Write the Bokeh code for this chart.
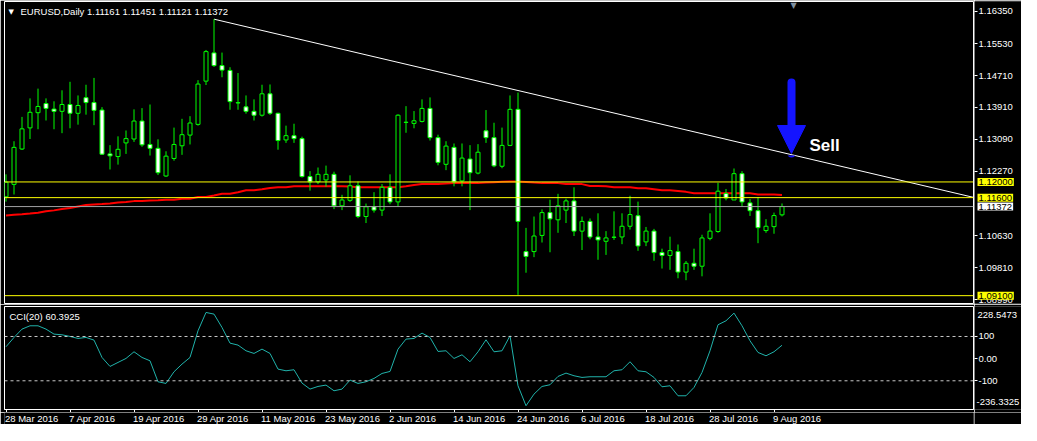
from bokeh.plotting import figure
from bokeh.models import (Range1d, FixedTicker, Span, Label, Arrow, NormalHead, ColumnDataSource)
from bokeh.layouts import column, row
from bokeh.embed import file_html
from bokeh.resources import INLINE
from bokeh.core.properties import value

# ---------------- data (EURUSD, Daily) ----------------
symbol = "EURUSD"
timeframe = "Daily"

opens = [1.11622, 1.11938, 1.12840, 1.13379, 1.13766, 1.14000, 1.13858, 1.13801, 1.13975, 1.13751,
         1.14149, 1.14024, 1.13833, 1.12715, 1.12648, 1.12996, 1.13095, 1.13553, 1.12956, 1.12857,
         1.12152, 1.12599, 1.12922, 1.13195, 1.13468, 1.14571, 1.15291, 1.14968, 1.14844, 1.14015,
         1.13915, 1.13801, 1.13702, 1.14248, 1.13751, 1.13071, 1.13180, 1.13105, 1.12137, 1.12002,
         1.12052, 1.12194, 1.11391, 1.11531, 1.11903, 1.11118, 1.11367, 1.11282, 1.11863, 1.11491,
         1.13518, 1.13493, 1.13543, 1.13875, 1.13130, 1.12450, 1.12882, 1.12027, 1.12584, 1.12226,
         1.13304, 1.13130, 1.12400, 1.12932, 1.13851, 1.10224, 1.10224, 1.10636, 1.11218, 1.11034,
         1.11282, 1.11516, 1.10746, 1.10994, 1.10597, 1.10487, 1.10587, 1.10597, 1.10870, 1.11138,
         1.10472, 1.10746, 1.10199, 1.10125, 1.10224, 1.09702, 1.09926, 1.09851, 1.10562, 1.10736,
         1.11704, 1.11540, 1.12211, 1.11466, 1.11267, 1.10760, 1.10860, 1.11161]

highs = [1.12194, 1.13038, 1.13659, 1.14131, 1.14380, 1.14131, 1.14057, 1.14337, 1.14554, 1.14206,
         1.14479, 1.14653, 1.13908, 1.12939, 1.13163, 1.13312, 1.13851, 1.13883, 1.13975, 1.13088,
         1.12782, 1.13386, 1.13610, 1.13677, 1.14596, 1.15366, 1.16151, 1.15299, 1.14926, 1.14777,
         1.14206, 1.14106, 1.14479, 1.14486, 1.13766, 1.13436, 1.13485, 1.13155, 1.12276, 1.12368,
         1.12417, 1.12261, 1.11672, 1.12169, 1.12012, 1.11449, 1.11739, 1.11945, 1.12194, 1.13726,
         1.13933, 1.13808, 1.14106, 1.14156, 1.13205, 1.13038, 1.12981, 1.12981, 1.12939, 1.12964,
         1.13833, 1.13510, 1.13386, 1.14206, 1.14280, 1.10828, 1.11118, 1.11300, 1.11548, 1.11697,
         1.11573, 1.11863, 1.11118, 1.11069, 1.11200, 1.10746, 1.11250, 1.11200, 1.11647, 1.11498,
         1.10852, 1.10803, 1.10298, 1.10604, 1.10405, 1.09983, 1.10298, 1.10654, 1.11200, 1.11978,
         1.11821, 1.12343, 1.12276, 1.11565, 1.11615, 1.11051, 1.11218, 1.11451]

lows = [1.11498, 1.11680, 1.12815, 1.13095, 1.13344, 1.13567, 1.13344, 1.13244, 1.13369, 1.13461,
        1.13716, 1.13448, 1.12691, 1.12318, 1.12442, 1.12715, 1.13021, 1.12897, 1.12673, 1.12176,
        1.12127, 1.12542, 1.12691, 1.12956, 1.13436, 1.14472, 1.14934, 1.14670, 1.13841, 1.13841,
        1.13741, 1.13567, 1.13667, 1.13709, 1.12822, 1.12996, 1.12996, 1.12112, 1.11779, 1.11945,
        1.11878, 1.11307, 1.11282, 1.11491, 1.11076, 1.10952, 1.11218, 1.11133, 1.11431, 1.11367,
        1.13254, 1.13369, 1.13518, 1.13056, 1.12425, 1.12301, 1.11888, 1.11888, 1.11282, 1.12194,
        1.12996, 1.12375, 1.12350, 1.12914, 1.09120, 1.09685, 1.10082, 1.10455, 1.10207, 1.10703,
        1.10952, 1.10621, 1.10264, 1.10537, 1.10015, 1.10139, 1.10522, 1.10413, 1.10785, 1.10244,
        1.10363, 1.09990, 1.09792, 1.09759, 1.09543, 1.09494, 1.09759, 1.09593, 1.10512, 1.10703,
        1.11531, 1.11540, 1.11381, 1.11133, 1.10438, 1.10703, 1.10679, 1.11121]

closes = [1.11995, 1.12882, 1.13354, 1.13776, 1.13925, 1.13875, 1.13801, 1.13975, 1.13751, 1.13950,
          1.14024, 1.13826, 1.12708, 1.12666, 1.12832, 1.13105, 1.13553, 1.12946, 1.12857, 1.12236,
          1.12658, 1.12956, 1.13205, 1.13503, 1.14496, 1.15324, 1.14968, 1.14852, 1.14049, 1.14022,
          1.13801, 1.13702, 1.14248, 1.13751, 1.13056, 1.13180, 1.13105, 1.12137, 1.12002, 1.12194,
          1.12194, 1.11391, 1.11540, 1.11903, 1.11118, 1.11367, 1.11282, 1.11863, 1.11491, 1.13702,
          1.13523, 1.13560, 1.13875, 1.13130, 1.12499, 1.12914, 1.12002, 1.12609, 1.12236, 1.12758,
          1.13130, 1.12410, 1.12932, 1.13851, 1.10994, 1.10100, 1.10621, 1.11218, 1.11059, 1.11391,
          1.11516, 1.10746, 1.10994, 1.10597, 1.10522, 1.10572, 1.10592, 1.10870, 1.11168, 1.10368,
          1.10746, 1.10199, 1.10125, 1.10249, 1.09702, 1.09926, 1.09851, 1.10572, 1.10746, 1.11764,
          1.11590, 1.12211, 1.11491, 1.11267, 1.10835, 1.10870, 1.11143, 1.11372]

ma_red = [1.11143, 1.11163, 1.11175, 1.11193, 1.11213, 1.11250, 1.11275, 1.11312, 1.11337, 1.11374,
          1.11411, 1.11424, 1.11436, 1.11449, 1.11473, 1.11491, 1.11511, 1.11516, 1.11526, 1.11531,
          1.11548, 1.11548, 1.11573, 1.11573, 1.11615, 1.11615, 1.11655, 1.11697, 1.11697, 1.11739,
          1.11789, 1.11789, 1.11814, 1.11846, 1.11863, 1.11863, 1.11888, 1.11888, 1.11888, 1.11888,
          1.11888, 1.11888, 1.11888, 1.11883, 1.11863, 1.11863, 1.11863, 1.11863, 1.11863, 1.11863,
          1.11888, 1.11921, 1.11945, 1.11945, 1.11945, 1.11958, 1.11970, 1.11970, 1.11970, 1.11970,
          1.11983, 1.11995, 1.12007, 1.12012, 1.12012, 1.12000, 1.11983, 1.11970, 1.11970, 1.11970,
          1.11945, 1.11945, 1.11945, 1.11896, 1.11896, 1.11888, 1.11863, 1.11863, 1.11863, 1.11839,
          1.11839, 1.11814, 1.11789, 1.11789, 1.11771, 1.11747, 1.11714, 1.11714, 1.11714, 1.11714,
          1.11714, 1.11714, 1.11714, 1.11714, 1.11680, 1.11680, 1.11680, 1.11665]

cci = [53.6, 95.7, 133.3, 148.3, 148.3, 133.3, 110.7, 107.7, 100.2, 91.2,
       95.7, 83.6, 5.4, -35.2, -17.1, 0.9, 31.0, 5.4, -9.6, -104.4,
       -111.9, -59.3, -24.7, 5.4, 125.8, 208.5, 201.0, 140.8, 70.1, 61.1,
       35.5, 23.5, 43.0, 23.5, -47.2, -54.8, -50.2, -110.4, -137.5, -125.5,
       -119.4, -145.0, -137.5, -96.9, -111.9, -104.4, -89.4, -66.8, -57.8, 43.0,
       88.2, 91.2, 115.2, 95.7, 32.5, 35.5, 0.9, 17.4, -14.1, 31.0,
       85.1, 31.0, 35.5, 103.2, -122.5, -212.7, -160.1, -125.5, -117.9, -80.3,
       -65.3, -77.3, -84.8, -81.8, -81.8, -81.8, -54.8, -50.2, -14.1, -54.8,
       -59.3, -84.8, -127.0, -122.5, -167.6, -167.6, -130.0, -62.3, 35.5, 152.9,
       170.9, 205.5, 148.3, 80.6, 28.0, 12.9, 31.0, 60.3925]

date_tick_bars = [0, 8, 16, 24, 32, 40, 48, 56, 64, 72, 80, 88, 96]
date_tick_labels = ["28 Mar 2016", "7 Apr 2016", "19 Apr 2016", "29 Apr 2016", "11 May 2016",
                    "23 May 2016", "2 Jun 2016", "14 Jun 2016", "24 Jun 2016", "6 Jul 2016",
                    "18 Jul 2016", "28 Jul 2016", "9 Aug 2016"]

price_ticks = [1.16350, 1.15530, 1.14710, 1.13910, 1.13090, 1.12270, 1.10630, 1.09810, 1.08990]
yellow_levels = [1.12000, 1.11600, 1.09100]
cci_ticks = [100, 0, -100]
cci_tick_labels = ["100", "0.00", "-100"]
cci_scale_max = 228.5473
cci_scale_min = -236.3325

# trend line anchors (bar index, price)
trend_bar = [26, 64]
trend_price = [1.16151, 1.14332]

# ---------------- layout constants ----------------
PX_BAR = 8
LEFT = 4
FRAME_W = 969
SIDE_W = 47
FRAME_H1 = 302
FRAME_H2 = 103
FRAME_H3 = 12
X0 = -0.1875
X1 = X0 + FRAME_W / PX_BAR
P_TOP = 1.16602
P_BOT = 1.08900
PPU = FRAME_H1 / (P_TOP - P_BOT)
C_TOP = 235.4
C_BOT = -229.6
CPU = FRAME_H2 / (C_TOP - C_BOT)

FONT = "Liberation Sans"
FS = "9.5px"
GREEN = "#00ff00"
BLUE = "#1414ff"
YELLOW = "#ffff00"


def px2x(px):
    return X0 + (px - LEFT) / PX_BAR


def py2p(py):          # page y (main panel) -> price
    return P_TOP - (py - 1) / PPU


def py2c(py):          # page y (cci panel) -> cci value
    return C_TOP - (py - 306) / CPU


n = len(closes)
idx = list(range(n))

common = dict(output_backend="svg", toolbar_location=None,
              background_fill_color="black", border_fill_color="black")

# ---------------- main chart ----------------
p1 = figure(frame_width=FRAME_W, frame_height=FRAME_H1,
            x_range=Range1d(X0, X1), y_range=Range1d(P_BOT, P_TOP),
            x_axis_location=None, y_axis_location=None,
            outline_line_color="white", outline_line_width=1,
            min_border_left=LEFT, min_border_top=1, min_border_bottom=1, min_border_right=1,
            **common)
p1.grid.visible = False

for lv in yellow_levels:
    p1.add_layout(Span(location=lv, dimension="width", line_color=YELLOW, line_width=1))
p1.add_layout(Span(location=closes[-1], dimension="width", line_color="#a0a0a4", line_width=1))

p1.line(idx, ma_red, line_color="#ff0000", line_width=2)

slope = (trend_price[1] - trend_price[0]) / (trend_bar[1] - trend_bar[0])
p1.line([trend_bar[0], X1 + 1], [trend_price[0], trend_price[0] + slope * (X1 + 1 - trend_bar[0])],
        line_color="white", line_width=1)

body_top = [max(o, c) for o, c in zip(opens, closes)]
body_bot = [min(o, c) for o, c in zip(opens, closes)]
fills = ["black" if c >= o else "white" for o, c in zip(opens, closes)]
src = ColumnDataSource(dict(x=idx, lo=lows, hi=highs, top=body_top, bot=body_bot, fill=fills))
p1.segment(x0="x", y0="lo", x1="x", y1="hi", source=src, line_color=GREEN, line_width=1)
p1.vbar(x="x", width=0.5, top="top", bottom="bot", source=src,
        fill_color="fill", line_color=GREEN, line_width=1)

p1.add_layout(Label(x=px2x(8), y=py2p(11), text="\u25bc", text_color="white",
                    text_font="DejaVu Sans", text_font_size="7px", text_baseline="middle"))
title_txt = f"{symbol},{timeframe}  " + " ".join(f"{v:.5f}" for v in
                                                (opens[-1], highs[-1], lows[-1], closes[-1]))
p1.add_layout(Label(x=px2x(20), y=py2p(11), text=title_txt, text_color="white",
                    text_font=FONT, text_font_size=FS, text_baseline="middle"))

p1.add_layout(Label(x=px2x(793), y=py2p(5), text="\u25bc", text_color="#8090a0",
                    text_font="DejaVu Sans", text_font_size="8px", text_align="center",
                    text_baseline="middle"))

p1.add_layout(Arrow(end=NormalHead(size=28, fill_color=BLUE, line_color=BLUE),
                    x_start=px2x(791), y_start=py2p(82), x_end=px2x(791), y_end=py2p(153),
                    line_color=BLUE, line_width=8, line_cap="round"))
p1.add_layout(Label(x=px2x(809), y=py2p(145), text="Sell", text_color="white",
                    text_font=FONT, text_font_style="bold", text_font_size="17px",
                    text_baseline="middle"))

# right price scale
r1 = figure(frame_width=SIDE_W, frame_height=FRAME_H1,
            x_range=Range1d(0, SIDE_W), y_range=p1.y_range,
            x_axis_location=None, y_axis_location="left", outline_line_color=None,
            min_border_left=0, min_border_top=1, min_border_bottom=1, min_border_right=0,
            **common)
r1.grid.visible = False
ay = r1.yaxis[0]
ay.ticker = FixedTicker(ticks=price_ticks)
ay.major_label_overrides = {t: "" for t in price_ticks}
ay.major_label_text_font_size = "0px"
ay.major_label_standoff = 0
ay.axis_line_color = None
ay.major_tick_line_color = "white"
ay.major_tick_in = 3
ay.major_tick_out = 0
ay.minor_tick_line_color = None
r1.text(x=[4] * len(price_ticks), y=price_ticks, text=[f"{t:.5f}" for t in price_ticks],
        text_color="white", text_font=value(FONT), text_font_size=value(FS),
        text_align="left", text_baseline="middle")
for lv in yellow_levels:
    r1.add_layout(Label(x=3, y=lv, text=f"{lv:.5f}", text_color="black",
                        text_font=FONT, text_font_size=FS, text_align="left",
                        text_baseline="middle", background_fill_color=YELLOW, padding=1))
r1.add_layout(Label(x=3, y=closes[-1], text=f"{closes[-1]:.5f}", text_color="black",
                    text_font=FONT, text_font_size=FS, text_align="left",
                    text_baseline="middle", background_fill_color="white", padding=1))

# ---------------- CCI panel ----------------
p2 = figure(frame_width=FRAME_W, frame_height=FRAME_H2,
            x_range=p1.x_range, y_range=Range1d(C_BOT, C_TOP),
            x_axis_location="below", y_axis_location=None,
            outline_line_color="white", outline_line_width=1,
            min_border_left=LEFT, min_border_top=2, min_border_bottom=3, min_border_right=1,
            **common)
p2.grid.visible = False
for lv in (100, -100):
    p2.add_layout(Span(location=lv, dimension="width", line_color="#c8c8c8",
                       line_width=1, line_dash="3 3"))
p2.line(idx, cci, line_color="#20b2aa", line_width=1)
p2.add_layout(Label(x=px2x(9), y=py2c(316), text=f"CCI(20) {cci[-1]:.4f}", text_color="white",
                    text_font=FONT, text_font_size=FS, text_baseline="middle"))

xa = p2.xaxis[0]
xa.ticker = FixedTicker(ticks=date_tick_bars)
xa.major_label_overrides = {t: "" for t in date_tick_bars}
xa.major_label_text_font_size = "0px"
xa.major_label_standoff = 0
xa.axis_line_color = "white"
xa.major_tick_line_color = "white"
xa.major_tick_in = 0
xa.major_tick_out = 3
xa.minor_tick_line_color = None

r2 = figure(frame_width=SIDE_W, frame_height=FRAME_H2,
            x_range=Range1d(0, SIDE_W), y_range=p2.y_range,
            x_axis_location=None, y_axis_location="left", outline_line_color=None,
            min_border_left=0, min_border_top=2, min_border_bottom=3, min_border_right=0,
            **common)
r2.grid.visible = False
ay2 = r2.yaxis[0]
ay2.ticker = FixedTicker(ticks=cci_ticks)
ay2.major_label_overrides = {t: "" for t in cci_ticks}
ay2.major_label_text_font_size = "0px"
ay2.major_label_standoff = 0
ay2.axis_line_color = None
ay2.major_tick_line_color = "white"
ay2.major_tick_in = 3
ay2.major_tick_out = 0
ay2.minor_tick_line_color = None
r2.text(x=[4] * len(cci_ticks), y=cci_ticks, text=cci_tick_labels,
        text_color="white", text_font=value(FONT), text_font_size=value(FS),
        text_align="left", text_baseline="middle")
r2.text(x=[3, 2], y=[py2c(314), py2c(401)],
        text=[f"{cci_scale_max:.4f}", f"{cci_scale_min:.4f}"],
        text_color="white", text_font=value(FONT), text_font_size=value(FS),
        text_align="left", text_baseline="middle")

# ---------------- date labels strip ----------------
b3 = figure(frame_width=FRAME_W, frame_height=FRAME_H3,
            x_range=p1.x_range, y_range=Range1d(0, 1),
            x_axis_location=None, y_axis_location=None, outline_line_color=None,
            min_border_left=LEFT, min_border_top=0, min_border_bottom=0, min_border_right=1,
            **common)
b3.grid.visible = False
b3.text(x=date_tick_bars, y=[0.5] * len(date_tick_bars), text=date_tick_labels,
        x_offset=-1, text_color="white", text_font=value(FONT), text_font_size=value(FS),
        text_align="left", text_baseline="middle")

r3 = figure(frame_width=SIDE_W, frame_height=FRAME_H3,
            x_range=Range1d(0, 1), y_range=Range1d(0, 1),
            x_axis_location=None, y_axis_location=None, outline_line_color=None,
            min_border_left=0, min_border_top=0, min_border_bottom=0, min_border_right=0,
            **common)
r3.grid.visible = False
r3.text(x=[0], y=[0], text=[""])

layout = row(column(p1, p2, b3, spacing=0), column(r1, r2, r3, spacing=0), spacing=0)
open("out.html", "w").write(file_html(layout, INLINE))
